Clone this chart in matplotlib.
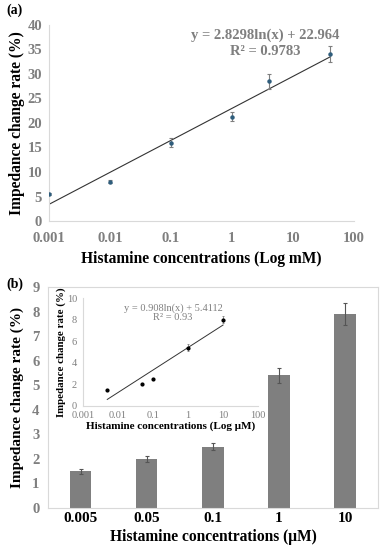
import matplotlib
matplotlib.use("Agg")
import matplotlib.pyplot as plt
import numpy as np

plt.rcParams['font.family'] = ['Liberation Serif', 'DejaVu Serif']

# panel (a): log mM
conc_a = [0.001, 0.01, 0.1, 1, 4, 40]
rate_a = [5.5, 8.0, 16.0, 21.3, 28.5, 34.0]
err_a = [0.2, 0.3, 0.9, 1.0, 1.5, 1.6]
fit_a = (2.8298, 22.964)

# panel (b): bars in uM
conc_b = ['0.005', '0.05', '0.1', '1', '10']
rate_b = [1.5, 2.0, 2.5, 5.4, 7.9]
err_b = [0.1, 0.12, 0.15, 0.3, 0.45]

# inset
conc_in = [0.005, 0.05, 0.1, 1, 10]
rate_in = [1.5, 2.0, 2.5, 5.4, 8.0]
err_in = [0.05, 0.05, 0.05, 0.3, 0.35]
fit_in = (0.908, 5.4112)

grey = '#7f7f7f'
lightgrey = '#d9d9d9'

fig = plt.figure(figsize=(3.83, 5.5), dpi=100)

# ---- (a)
ax = fig.add_axes([0.128, 0.598, 0.796, 0.357])
ax.errorbar(conc_a, rate_a, yerr=err_a, fmt='o', ms=2.2, color='#2f5d7c',
            ecolor=grey, elinewidth=0.8, capsize=1.5, capthick=0.8, zorder=3)
xx = np.logspace(np.log10(conc_a[0]), np.log10(conc_a[-1]), 50)
ax.plot(xx, fit_a[0] * np.log(xx) + fit_a[1], color='#333333', lw=0.8)
ax.set_xscale('log')
ax.set_xlim(0.001, 100)
ax.set_ylim(0, 40)
ax.set_yticks(range(0, 41, 5))
ax.set_xticks([0.001, 0.01, 0.1, 1, 10, 100])
ax.set_xticklabels(['0.001', '0.01', '0.1', '1', '10', '100'])
ax.minorticks_off()
ax.tick_params(axis='x', length=0, labelsize=10.5, labelcolor=grey, pad=8)
ax.tick_params(axis='y', length=0, labelsize=10.5, labelcolor=grey, pad=5)
for lab in ax.get_xticklabels() + ax.get_yticklabels():
    lab.set_fontweight('bold')
for s in ['top', 'right']:
    ax.spines[s].set_visible(False)
for s in ['left', 'bottom']:
    ax.spines[s].set_color(lightgrey)
ax.set_xlabel('Histamine concentrations (Log mM)', fontsize=11.2, fontweight='bold', labelpad=4)
ax.set_ylabel('Impedance change rate (%)', fontsize=11.2, fontweight='bold', labelpad=2)
ax.text(0.71, 0.905, 'y = 2.8298ln(x) + 22.964\nR² = 0.9783', transform=ax.transAxes,
        ha='center', va='center', color=grey, fontsize=10.5, fontweight='bold',
        linespacing=1.3)
fig.text(6 / 383, 1 - 10 / 550, '(a)', fontsize=10, fontweight='bold', va='center')

# ---- (b)
bx = fig.add_axes([0.125, 0.0764, 0.862, 0.4018])
pos = np.arange(len(conc_b))
bx.bar(pos, rate_b, width=0.32, color='#7f7f7f', yerr=err_b,
       error_kw=dict(ecolor='#555555', elinewidth=0.8, capsize=1.5, capthick=0.8))
bx.set_xlim(-0.5, 4.5)
bx.set_ylim(0, 9)
bx.set_yticks(range(0, 10))
bx.set_xticks(pos)
bx.set_xticklabels(conc_b, fontsize=11, fontweight='bold')
bx.tick_params(axis='y', length=0, labelsize=10.5, labelcolor=grey, pad=6)
bx.tick_params(axis='x', length=0, pad=3)
for lab in bx.get_yticklabels():
    lab.set_fontweight('bold')
for s in bx.spines.values():
    s.set_color(lightgrey)
bx.set_xlabel('Histamine concentrations (μM)', fontsize=11.2, fontweight='bold', labelpad=3)
bx.set_ylabel('Impedance change rate (%)', fontsize=11, fontweight='bold', labelpad=6)
fig.text(6 / 383, 1 - 284 / 550, '(b)', fontsize=10, fontweight='bold', va='center')

# ---- inset
ix = fig.add_axes([0.216, 0.262, 0.458, 0.196])
ix.patch.set_alpha(0)
ix.errorbar(conc_in, rate_in, yerr=err_in, fmt='o', ms=2, color='black',
            ecolor=grey, elinewidth=0.6, capsize=1, capthick=0.6, zorder=3)
xx = np.logspace(np.log10(conc_in[0]), np.log10(conc_in[-1]), 50)
ix.plot(xx, fit_in[0] * np.log(xx) + fit_in[1], color='#333333', lw=0.7)
ix.set_xscale('log')
ix.set_xlim(0.001, 100)
ix.set_ylim(0, 10)
ix.set_yticks(range(0, 11, 2))
ix.set_xticks([0.001, 0.01, 0.1, 1, 10, 100])
ix.set_xticklabels(['0.001', '0.01', '0.1', '1', '10', '100'])
ix.minorticks_off()
ix.tick_params(length=0, labelsize=7.5, labelcolor=grey, pad=4)
for s in ['top', 'right']:
    ix.spines[s].set_visible(False)
for s in ['left', 'bottom']:
    ix.spines[s].set_color(lightgrey)
ix.set_xlabel('Histamine concentrations (Log μM)', fontsize=8, fontweight='bold', labelpad=1)
ix.set_ylabel('Impedance change rate (%)', fontsize=7.8, fontweight='bold', labelpad=1)
ix.text(0.515, 0.86, 'y = 0.908ln(x) + 5.4112\nR² = 0.93', transform=ix.transAxes,
        ha='center', va='center', color=grey, fontsize=7.5, linespacing=1.0)

fig.savefig('out.png', dpi=100)
